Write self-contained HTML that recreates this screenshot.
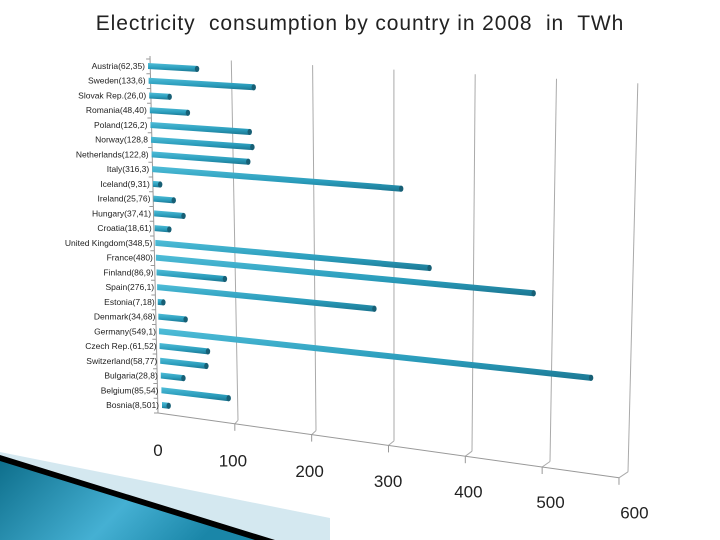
<!DOCTYPE html>
<html><head><meta charset="utf-8"><style>
html,body{margin:0;padding:0;background:#fff;width:720px;height:540px;overflow:hidden}
svg{display:block;font-family:"Liberation Sans",sans-serif}
</style></head><body>
<svg id="chart" width="720" height="540" viewBox="0 0 720 540">
<defs>
<linearGradient id="teal" x1="0" y1="0" x2="1" y2="0.3">
<stop offset="0" stop-color="#0e6f8c"/><stop offset="0.6" stop-color="#45b0d3"/><stop offset="1" stop-color="#1a86a8"/>
</linearGradient>
<linearGradient id="bar" x1="0" y1="0" x2="0" y2="1">
<stop offset="0" stop-color="#4fbdd8"/><stop offset="0.6" stop-color="#2a9cbb"/><stop offset="1" stop-color="#1b7590"/>
</linearGradient>
</defs>
<polygon points="0,452 330,518 330,540 0,540" fill="#d4e8f0"/>
<polygon points="0,455 275,540 0,540" fill="#000"/>
<polygon points="0,461 255,540 0,540" fill="url(#teal)"/>
<text x="360" y="30" text-anchor="middle" font-size="21" letter-spacing="0.9" fill="#222" xml:space="preserve">Electricity  consumption by country in 2008  in  TWh</text>
<g id="grid"></g>
<g id="bars"></g>
<g id="labels"></g>
</svg>
<script>
const categories=["Austria(62,35)","Sweden(133,6)","Slovak Rep.(26,0)","Romania(48,40)","Poland(126,2)","Norway(128,8","Netherlands(122,8)","Italy(316,3)","Iceland(9,31)","Ireland(25,76)","Hungary(37,41)","Croatia(18,61)","United Kingdom(348,5)","France(480)","Finland(86,9)","Spain(276,1)","Estonia(7,18)","Denmark(34,68)","Germany(549,1)","Czech Rep.(61,52)","Switzerland(58,77)","Bulgaria(28,8)","Belgium(85,54)","Bosnia(8,501)"];
const values=[62.35,133.6,26.0,48.4,126.2,128.8,122.8,316.3,9.31,25.76,37.41,18.61,348.5,480,86.9,276.1,7.18,34.68,549.1,61.52,58.77,28.8,85.54,8.501];
const ticks=[0,100,200,300,400,500,600];
const NS="http://www.w3.org/2000/svg";
function mk(t,a,p){const e=document.createElementNS(NS,t);for(const k in a)e.setAttribute(k,a[k]);p.appendChild(e);return e;}
const n=categories.length;
function rowY(i){return 66+i*(339/(n-1));}
function rowX(i){return 148+i*(14/(n-1));}
function slope(i){return 0.047+i*0.0021;}
const sx=0.787;
const g=document.getElementById('grid');
function topX(v){return 150+v*0.813;} function topY(v){return 56+v*0.0455;}
function frX(v){return 158+v*0.7683;} function frY(v){return 413+v*0.108;}
function bkX(v){return 160+v*0.78;} function bkY(v){return 410+v*0.103;}
function lbX(v){return 158+v*0.74+v*v*0.00009;} function lbY(v){return 456+v*0.104;}
ticks.forEach((v,k)=>{
 if(v>0){const l=mk('line',{x1:topX(v),y1:topY(v),x2:bkX(v),y2:bkY(v),stroke:'#aaa','stroke-width':1},g);
 
 mk('line',{x1:bkX(v),y1:bkY(v),x2:frX(v),y2:frY(v),stroke:'#aaa','stroke-width':1},g);
 mk('line',{x1:frX(v),y1:frY(v),x2:frX(v),y2:frY(v)+7,stroke:'#999','stroke-width':1},g);}
 const t=mk('text',{x:lbX(v),y:lbY(v),'text-anchor':'middle','font-size':17,fill:'#222'},g);
 t.textContent=v;
 
 
});
mk('line',{x1:frX(0),y1:frY(0),x2:frX(600),y2:frY(600),stroke:'#999','stroke-width':1},g);
mk('line',{x1:150,y1:56,x2:158,y2:413,stroke:'#999','stroke-width':1},g);
for(let i=0;i<=n;i++){const y=59+i*(354/n);const x=150+(y-56)*8/357;mk('line',{x1:x-4,y1:y,x2:x,y2:y,stroke:'#999','stroke-width':1},g);}
const b=document.getElementById('bars'),lb=document.getElementById('labels');
values.forEach((v,i)=>{
 const x0=rowX(i),y0=rowY(i),x1=x0+v*sx,y1=y0+v*slope(i);
 const p=mk('polygon',{points:`${x0},${y0-3} ${x1},${y1-3} ${x1},${y1+3} ${x0},${y0+3}`,fill:'url(#bar)'},b);
 
 
 mk('ellipse',{cx:x1,cy:y1,rx:2.2,ry:3.1,fill:'#175f75'},b);
 const t=mk('text',{x:x0-3,y:y0+3,'text-anchor':'end','font-size':8.5,fill:'#222'},lb);
 t.textContent=categories[i];
 
 
});
</script>
</body></html>
